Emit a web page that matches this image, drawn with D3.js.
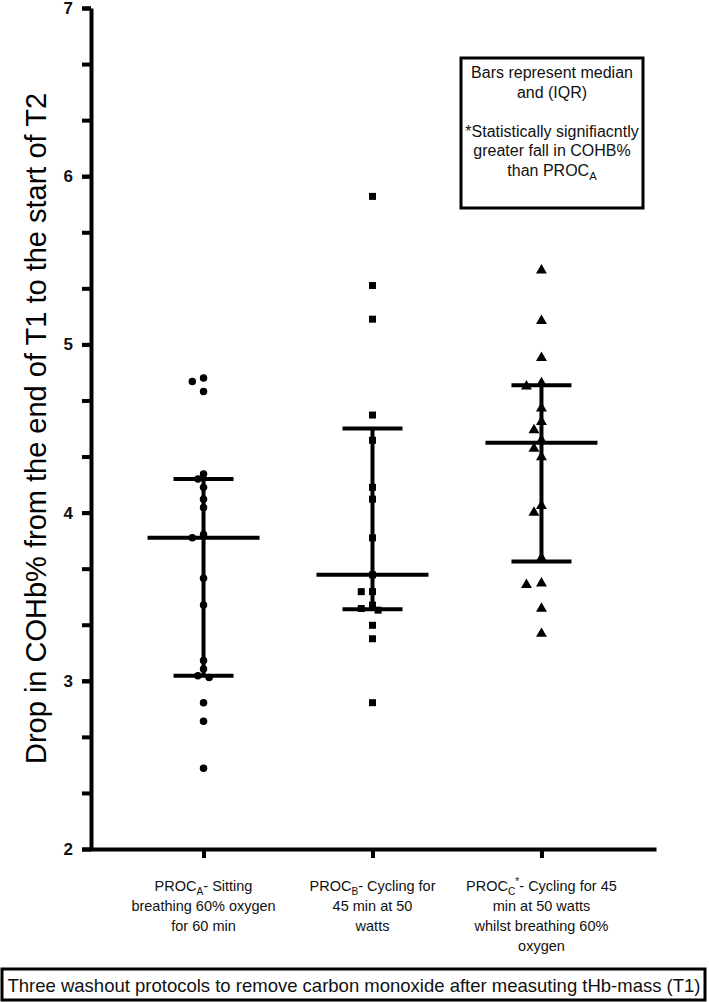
<!DOCTYPE html>
<html>
<head>
<meta charset="utf-8">
<script src="https://cdn.jsdelivr.net/npm/d3@7"></script>
<style>
  body { margin: 0; background: #fff; }
  svg { display: block; font-family: "Liberation Sans", Arial, sans-serif; }
</style>
</head>
<body>
<svg id="chart"></svg>
<script>
// groups on the x axis
const groups = ["A", "B", "C"];
// COHb% drop for each subject
const procA = [4.80, 4.78, 4.72, 4.23, 4.20, 4.15, 4.08, 4.03, 3.87, 3.85, 3.61, 3.45, 3.12, 3.07, 3.03, 3.02, 2.87, 2.76, 2.48];
const procB = [5.88, 5.35, 5.15, 4.58, 4.43, 4.15, 4.08, 3.85, 3.63, 3.53, 3.53, 3.45, 3.43, 3.42, 3.33, 3.25, 2.87];
const procC = [5.44, 5.14, 4.92, 4.77, 4.75, 4.62, 4.54, 4.49, 4.43, 4.38, 4.33, 4.04, 4.00, 3.73, 3.58, 3.57, 3.43, 3.28];
// median and IQR bars
const medians = [3.85, 3.63, 4.415];
const q1 = [3.03, 3.425, 3.71];
const q3 = [4.20, 4.50, 4.757];
// axis ticks
const majorTicks = [2, 3, 4, 5, 6, 7];
const minorTicks = d3.range(2, 7.01, 1 / 3);

// tick labels, as [text, kind] pieces, one array per line
const groupLabels = [
  [[["PROC", "n"], ["A", "sub"], ["- Sitting", "n"]], [["breathing 60% oxygen", "n"]], [["for 60 min", "n"]]],
  [[["PROC", "n"], ["B", "sub"], ["- Cycling for", "n"]], [["45 min at 50", "n"]], [["watts", "n"]]],
  [[["PROC", "n"], ["C", "sub"], ["*", "sup"], ["- Cycling for 45", "n"]], [["min at 50 watts", "n"]], [["whilst breathing 60%", "n"]], [["oxygen", "n"]]]
];
const legendLines = [
  [["Bars represent median", "n"]],
  [["and (IQR)", "n"]],
  [["", "n"]],
  [["*Statistically signifiacntly", "n"]],
  [["greater fall in COHB%", "n"]],
  [["than PROC", "n"], ["A", "sub"]]
];
const yTitle = "Drop in COHb% from the end of T1 to the start of T2";
const xTitle = "Three washout protocols to remove carbon monoxide after measuting tHb-mass (T1)";

const WIDTH = 709;
const HEIGHT = 1002;

/**
 * Writes a line made of plain, subscript and superscript pieces into a text element.
 */
function addRichText(text, parts, fontSize) {
  let shift = 0;
  parts.forEach(([t, kind]) => {
    const target = kind === "sub" ? fontSize * 0.3 : kind === "sup" ? -fontSize * 0.4 : 0;
    text
      .append("tspan")
      .attr("dy", target - shift)
      .attr("font-size", kind === "n" ? fontSize : fontSize * 0.7)
      .text(t);
    shift = target;
  });
}

/**
 * Spreads points sideways so that markers of one column do not overlap.
 */
function swarm(values, y, size) {
  const placed = [];
  return values.map((v) => {
    const py = y(v);
    let off = 0;
    for (let k = 0; k < 9; k++) {
      const cand = k === 0 ? 0 : (k % 2 ? -1 : 1) * Math.ceil(k / 2) * size * 0.75;
      const hit = placed.some((p) => Math.hypot(p.x - cand, p.y - py) < size);
      if (!hit) { off = cand; break; }
    }
    placed.push({ x: off, y: py });
    return { v: v, dx: off };
  });
}

function drawChart() {
  const AXIS_LEFT = 91;
  const AXIS_RIGHT = 654;
  const AXIS_TOP = 8;
  const AXIS_BOTTOM = 849;

  const svg = d3.select("#chart").attr("width", WIDTH).attr("height", HEIGHT);

  const y = d3.scaleLinear().domain([2, 7]).range([AXIS_BOTTOM, AXIS_TOP]);
  const x = d3.scalePoint().domain(groups).range([AXIS_LEFT, AXIS_RIGHT]).padding(0.666);

  // minor ticks first, then the main axis on top
  svg
    .append("g")
    .attr("transform", `translate(${AXIS_LEFT},0)`)
    .call(d3.axisLeft(y).tickValues(minorTicks).tickSize(9).tickFormat(""))
    .call((g) => g.select(".domain").remove())
    .call((g) => g.selectAll("line").attr("stroke-width", 4));

  const yAxis = svg
    .append("g")
    .attr("transform", `translate(${AXIS_LEFT},0)`)
    .call(d3.axisLeft(y).tickValues(majorTicks).tickSize(9).tickSizeOuter(0).tickPadding(9).tickFormat(d3.format("d")));
  yAxis.select(".domain").attr("stroke-width", 4);
  yAxis.selectAll("line").attr("stroke-width", 4);
  yAxis
    .selectAll("text")
    .style("font-family", "'Liberation Sans', Arial, sans-serif")
    .style("font-size", "17px")
    .style("font-weight", "bold")
    .attr("fill", "#111");

  const xAxis = svg
    .append("g")
    .attr("transform", `translate(0,${AXIS_BOTTOM})`)
    .call(d3.axisBottom(x).tickSize(9).tickSizeOuter(0).tickFormat(""));
  xAxis.select(".domain").attr("stroke-width", 4).attr("stroke-linecap", "square");
  xAxis.selectAll("line").attr("stroke-width", 4);

  // group labels under the ticks
  groupLabels.forEach((lines, i) => {
    lines.forEach((parts, j) => {
      const t = svg
        .append("text")
        .attr("x", x(groups[i]))
        .attr("y", 891 + j * 20)
        .attr("text-anchor", "middle")
        .attr("fill", "#111");
      addRichText(t, parts, 14.5);
    });
  });

  // y title
  svg
    .append("text")
    .attr("transform", `translate(46,${(AXIS_TOP + AXIS_BOTTOM) / 2}) rotate(-90)`)
    .attr("text-anchor", "middle")
    .attr("font-size", 29)
    .text(yTitle);

  // median and IQR bars
  const bars = svg.append("g").attr("stroke", "black").attr("stroke-width", 4);
  groups.forEach((g, i) => {
    const cx = x(g);
    bars.append("line").attr("x1", cx).attr("x2", cx).attr("y1", y(q1[i])).attr("y2", y(q3[i]));
    bars.append("line").attr("x1", cx - 56).attr("x2", cx + 56).attr("y1", y(medians[i])).attr("y2", y(medians[i]));
    [q1[i], q3[i]].forEach((q) => {
      bars.append("line").attr("x1", cx - 30).attr("x2", cx + 30).attr("y1", y(q)).attr("y2", y(q));
    });
  });

  // the points
  const series = [
    { values: procA, symbol: d3.symbolCircle, area: 44, width: 7.5 },
    { values: procB, symbol: d3.symbolSquare, area: 49, width: 7.5 },
    { values: procC, symbol: d3.symbolTriangle, area: 52, width: 10 }
  ];
  series.forEach((s, i) => {
    svg
      .append("g")
      .selectAll("path")
      .data(swarm(s.values, y, s.width))
      .enter()
      .append("path")
      .attr("d", d3.symbol().type(s.symbol).size(s.area))
      .attr("transform", (d) => `translate(${x(groups[i]) + d.dx},${y(d.v)})`)
      .attr("fill", "black");
  });

  // legend box
  svg
    .append("rect")
    .attr("x", 461).attr("y", 58).attr("width", 182).attr("height", 150)
    .attr("fill", "white").attr("stroke", "black").attr("stroke-width", 3);
  legendLines.forEach((parts, j) => {
    const t = svg
      .append("text")
      .attr("x", 552)
      .attr("y", 78 + j * 19.5)
      .attr("text-anchor", "middle")
      .attr("fill", "#111");
    addRichText(t, parts, 16);
  });

  // caption box at the bottom
  svg
    .append("rect")
    .attr("x", 2).attr("y", 969).attr("width", 703).attr("height", 31)
    .attr("fill", "white").attr("stroke", "black").attr("stroke-width", 3);
  svg
    .append("text")
    .attr("x", 354)
    .attr("y", 992)
    .attr("text-anchor", "middle")
    .attr("font-size", 18.5)
    .attr("fill", "#111")
    .text(xTitle);
}

drawChart();
</script>
</body>
</html>
